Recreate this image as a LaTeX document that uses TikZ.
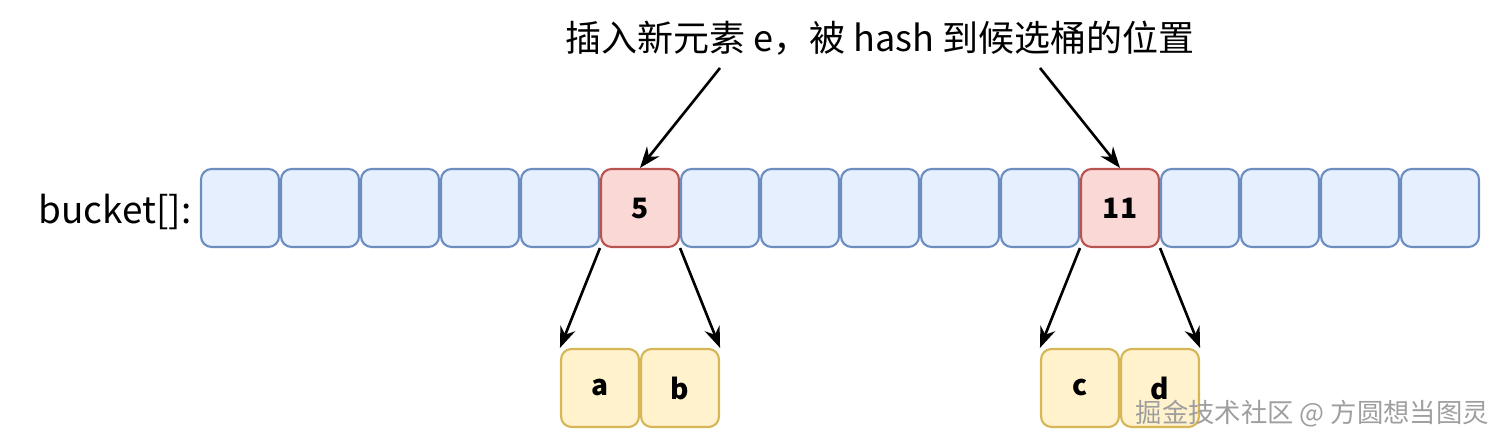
\documentclass[tikz,border=0pt]{standalone}
\usepackage{fontspec}
\setmainfont{Noto Sans CJK SC}
\usetikzlibrary{arrows.meta}
\definecolor{bf}{HTML}{DAE8FC}\definecolor{bs}{HTML}{6C8EBF}
\definecolor{rf}{HTML}{F8CECC}\definecolor{rs}{HTML}{B85450}
\definecolor{yf}{HTML}{FFF2CC}\definecolor{ys}{HTML}{D6B656}
\begin{document}
\begin{tikzpicture}[x=0.02cm,y=-0.02cm,
 cell/.style={draw, line width=1.2pt, rounded corners=6pt, minimum width=1.56cm, minimum height=1.56cm, inner sep=0pt, font=\bfseries\fontsize{16pt}{18pt}\selectfont},
 blue/.style={cell, draw=bs, fill=bf!70},
 red/.style={cell, draw=rs, fill=rf!80},
 yel/.style={cell, draw=ys, fill=yf},
 arr/.style={-{Stealth[length=12pt,width=9pt]}, line width=1.5pt}]
\useasboundingbox (0,0) rectangle (1500,448);
\node[font=\fontsize{20.5pt}{24pt}\selectfont] (t) at (880,38) {插入新元素 e，被 hash 到候选桶的位置};
\node[font=\fontsize{21pt}{24pt}\selectfont] (lbl) at (115,212) {bucket[]:};
\foreach \i in {0,...,15}{
  \pgfmathsetmacro\xx{240+80*\i}
  \ifnum\i=5 \node[red] (b\i) at (\xx,208) {5};
  \else\ifnum\i=11 \node[red] (b\i) at (\xx,208) {11};
  \else \node[blue] (b\i) at (\xx,208) {};\fi\fi
}
\node[yel] (a) at (600,388) {a};
\node[yel] (b) at (680,388) {b};
\node[yel] (c) at (1080,388) {c};
\node[yel] (d) at (1160,388) {d};
\coordinate (s1) at (720,68); \coordinate (s2) at (1040,68);
\draw[arr] (s1) -- (b5.north);
\draw[arr] (s2) -- (b11.north);
\draw[arr] (b5.south west) -- (a.north west);
\draw[arr] (b5.south east) -- (b.north east);
\draw[arr] (b11.south west) -- (c.north west);
\draw[arr] (b11.south east) -- (d.north east);
\node[text=gray!75, font=\fontsize{15pt}{17pt}\selectfont, anchor=east] (w) at (1495,414) {掘金技术社区 @ 方圆想当图灵};
\end{tikzpicture}
\end{document}
